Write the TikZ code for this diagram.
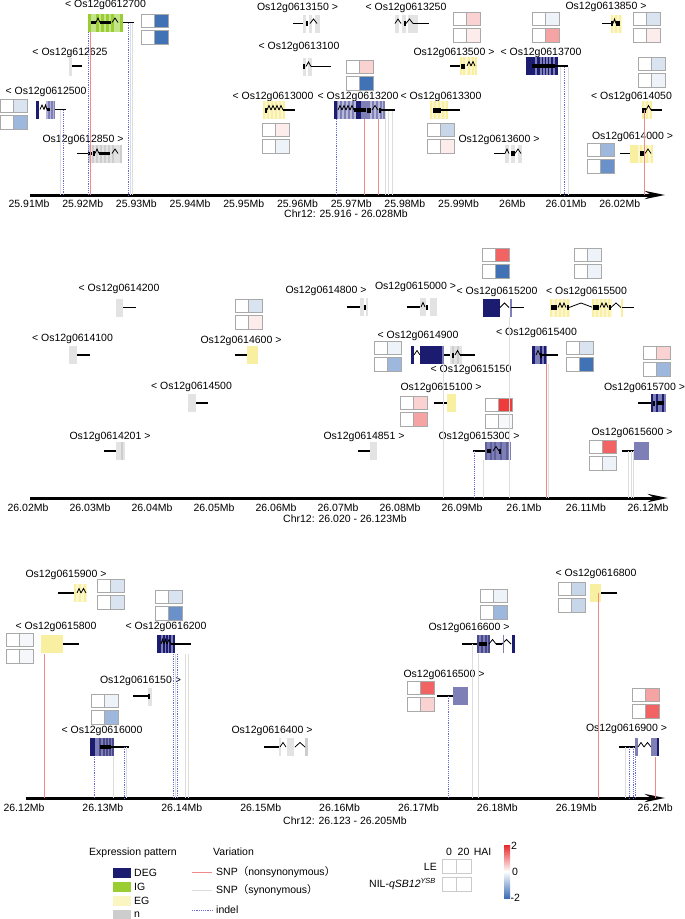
\documentclass[tikz,border=0pt]{standalone}
\usepackage{fontspec}
\setmainfont{Liberation Sans}
\newfontfamily\cjk{Noto Sans CJK SC}
\usepackage{xcolor}
\usetikzlibrary{arrows.meta,positioning}

\definecolor{degc}{HTML}{1B1B6F}
\definecolor{degl}{HTML}{7F7FB8}
\definecolor{igc}{HTML}{9ACD32}
\definecolor{igl}{HTML}{C4E48A}
\definecolor{egc}{HTML}{F8EFA0}
\definecolor{egl}{HTML}{FCF7CF}
\definecolor{nc}{HTML}{CDCDCD}
\definecolor{nl}{HTML}{E3E3E3}
\definecolor{snpred}{HTML}{F08A8A}
\definecolor{snpgrey}{HTML}{DDDDDD}
\definecolor{indelc}{HTML}{6C6CD6}
\definecolor{cellb}{HTML}{A9A9A9}
\definecolor{hb1}{HTML}{EEF2F9}
\definecolor{hb2}{HTML}{DAE3F0}
\definecolor{hb3}{HTML}{C8D6EA}
\definecolor{hb4}{HTML}{9DB8DC}
\definecolor{hb5}{HTML}{6A91C9}
\definecolor{hb6}{HTML}{4172B6}
\definecolor{hr1}{HTML}{FCECEC}
\definecolor{hr2}{HTML}{FAD2D2}
\definecolor{hr3}{HTML}{F6A3A3}
\definecolor{hr4}{HTML}{F26464}
\definecolor{hr5}{HTML}{EE3B3B}
\definecolor{cbred}{HTML}{E8282C}
\definecolor{cbblue}{HTML}{3A6DB5}

\newcommand\lbl{\fontsize{10.5}{12}\selectfont}
\newcommand\gln[3]{\draw[gl] (#1,#3)--(#2,#3);}
\newcommand\exn[4]{\fill[#4] (#1,{#3-9}) rectangle (#2,{#3+9});}
\newcommand\stp[4]{\foreach \s in {#1}{\fill[#3] (\s,{#2-9}) rectangle ++(#4,18);}}
\newcommand\tck[2]{\fill ({#1-0.55},{#2-2.5}) rectangle ({#1+0.55},{#2+2.5});}
\newcommand\cds[3]{\fill (#1,{#3-1.6}) rectangle (#2,{#3+1.6});}
\newcommand\chv[3]{\draw[zz] (#1,#3)--({(#1+#2)/2},{#3-4.5})--(#2,#3);}
\newcommand\vln[4]{\draw[#1] (#2,#3)--(#2,#4);}
\newcommand\hmap[4]{%
  \filldraw[hcell,fill=white] (#1,#2) rectangle ++(13.5,13.5);
  \filldraw[hcell,fill=#3] ({#1+13.5},#2) rectangle ++(13.5,13.5);
  \filldraw[hcell,fill=white] (#1,{#2+16.5}) rectangle ++(13.5,13.5);
  \filldraw[hcell,fill=#4] ({#1+13.5},{#2+16.5}) rectangle ++(13.5,13.5);}

\tikzset{
  lab/.style={font=\lbl,inner sep=0pt},
  gl/.style={line width=1.1pt,black},
  zz/.style={line width=0.8pt,black},
  axis/.style={line width=3pt,-{Stealth[length=20pt,width=8pt]}},
  snpn/.style={draw=snpred,line width=0.6pt},
  snps/.style={draw=snpgrey,line width=0.9pt},
  indel/.style={draw=indelc,line width=0.6pt,dash pattern=on 1.2pt off 1pt},
  hcell/.style={draw=cellb,line width=0.8pt},
}

\begin{document}
\begin{tikzpicture}[x=1pt,y=-1pt]
  \useasboundingbox (0,0) rectangle (685,919);

  % ---------- panel 1 ----------
  \draw[axis] (30,195)--(665,195);
  \foreach \v [count=\i from 0] in {25.91,25.92,25.93,25.94,25.95,25.96,25.97,25.98,25.99,26,26.01,26.02}
    \node[lab] (ta\i) at ({29+53.7*\i},204) {\v Mb};
  \node[lab] (chra) at (346,214) {Chr12: 25.916 - 26.028Mb};

  \node[lab] (l0612700) at (105.5,5) {< Os12g0612700};
  \exn{88}{123}{22.5}{igl} \stp{88,96,101,106,111,120}{22.5}{igc}{2.5}
  \cds{91}{96}{22.5} \chv{96}{100}{22.5} \cds{100}{111}{22.5} \chv{112}{118}{22.5}
  \gln{123}{134}{22.5}
  \hmap{141}{14}{hb6}{hb6}

  \node[lab] (l0612625) at (70,53) {< Os12g612625};
  \exn{69}{72}{67}{nl} \gln{72}{82}{66}

  \node[lab] (l0612500) at (46,92) {< Os12g0612500};
  \exn{46}{55}{109.5}{degl!60} \stp{48,51,53.5}{109.5}{degl}{1.5}
  \exn{36}{39}{109.5}{degc} \chv{40}{44}{109.5} \chv{44}{47}{109.5} \cds{47}{50}{109.5}
  \gln{55}{66}{109.5}
  \hmap{0}{99}{hb2}{hb4}

  \node[lab] (l0612850) at (83,140) {Os12g0612850 >};
  \gln{77}{88}{153.5} \exn{88}{122}{153.5}{nl} \stp{88,92,96,100,104,108,112,120}{153.5}{nc}{2}
  \cds{88}{92}{153.5} \tck{94}{153.5} \chv{95}{99}{153.5} \cds{99}{110}{153.5} \chv{112}{118}{153.5}

  \node[lab] (l0613150) at (297.5,8) {Os12g0613150 >};
  \gln{293}{303}{23.5} \exn{303}{306}{23.5}{nl} \exn{309}{312}{23.5}{nl} \exn{315}{320}{23.5}{nl}
  \tck{307}{23.5} \chv{310}{317}{23.5}

  \node[lab] (l0613250) at (406,8) {< Os12g0613250};
  \exn{395}{399}{23.5}{nl} \exn{402}{406}{23.5}{nl} \exn{408}{418}{23.5}{nl}
  \chv{395}{401}{23.5} \tck{405}{23.5} \chv{406}{413}{23.5} \gln{413}{429}{23.5}

  \node[lab] (l0613100) at (299,47) {< Os12g0613100};
  \exn{303}{306}{66.5}{nl} \exn{308}{312}{66.5}{nl} \tck{304}{66.5} \chv{306}{311}{66.5}
  \gln{311}{331}{66.5}
  \hmap{346}{60}{hr2}{hb6}

  \node[lab] (l0613000) at (273,97) {< Os12g0613000};
  \exn{263}{285}{110}{egl} \stp{263,267,271,275,279,283}{110}{egc}{1.6}
  \tck{266}{110} \chv{267}{271}{110} \chv{271}{275}{110} \chv{275}{279}{110} \chv{279}{283}{110}
  \gln{283}{295}{110}
  \hmap{262}{123}{hr1}{hb1}

  \node[lab] (l0613200) at (358,97) {< Os12g0613200};
  \exn{334}{385}{110}{degl!55}
  \stp{336,340,344,348,352,356,360,362,364,366,368,372,376,380,383}{110}{degl}{1.5}
  \exn{334}{337}{110}{degc} \exn{356}{361}{110}{degc}
  \chv{338}{342}{110} \chv{342}{346}{110} \chv{346}{350}{110} \chv{350}{354}{110}
  \cds{354}{366}{110} \tck{368}{110} \tck{370}{110} \chv{372}{378}{110} \tck{380}{110}
  \gln{380}{395}{110}

  \node[lab] (l0613300) at (441,97) {< Os12g0613300};
  \exn{430}{448}{110}{egl} \stp{430,434,438,442,446}{110}{egc}{1.6}
  \foreach \t in {434,436,438,440} {\tck{\t}{110}}
  \gln{441}{460}{110}
  \hmap{427}{123}{hb3}{hr1}

  \node[lab] (l0613500) at (454,53) {Os12g0613500 >};
  \gln{450}{462}{66} \exn{460}{477}{66}{egl} \stp{460,463,468,472,475}{66}{egc}{1.6}
  \tck{462}{66} \tck{464}{66} \chv{467}{471}{66} \chv{471}{475}{66}
  \hmap{453}{12}{hr2}{hr1}

  \node[lab] (l0613700) at (541,53) {< Os12g0613700};
  \exn{526}{558}{66}{degc} \stp{535,540,543,546,549,553}{66}{degl}{1.5}
  \cds{532}{555}{66} \gln{555}{568}{66}
  \hmap{532}{12}{hb1}{hr3}

  \node[lab] (l0613850) at (606,7) {Os12g0613850 >};
  \gln{602}{611}{23.5} \exn{611}{622}{23.5}{egl} \stp{611,615,619}{23.5}{egc}{1.6}
  \tck{612}{23.5} \chv{613}{616}{23.5} \tck{617}{23.5} \tck{619}{23.5}
  \hmap{633}{12}{hb2}{hr1}

  \node[lab] (l0614050) at (631.5,97) {< Os12g0614050};
  \exn{642}{652}{110}{egl} \stp{642,646,650}{110}{egc}{1.6}
  \tck{643}{110} \tck{645}{110} \chv{646}{651}{110} \gln{651}{662}{110}
  \hmap{638}{57}{hb2}{hb1}

  \node[lab] (l0614000) at (632.5,137) {Os12g0614000 >};
  \gln{620}{630}{153.5} \exn{630}{653}{153.5}{egl} \exn{630}{638}{153.5}{egc}
  \stp{640,646,651}{153.5}{egc}{2}
  \tck{641}{153.5} \tck{643}{153.5} \chv{645}{651}{153.5}
  \hmap{587}{143}{hb4}{hb5}

  \node[lab] (l0613600) at (499,140) {Os12g0613600 >};
  \gln{494}{505}{153.5} \exn{505}{509}{153.5}{nl} \exn{511}{515}{153.5}{nl} \exn{518}{522}{153.5}{nl}
  \chv{505}{509}{153.5} \tck{512}{153.5} \tck{514}{153.5} \chv{515}{521}{153.5}

  % variations, panel 1
  \vln{indel}{88}{31.5}{195} \vln{snpn}{90}{31.5}{195}
  \vln{indel}{128}{23}{195} \vln{snps}{130.5}{23}{195} \vln{snps}{132.5}{23}{195}
  \vln{snps}{60}{110}{195} \vln{indel}{63}{110}{195}
  \vln{indel}{336}{119}{195} \vln{snpn}{364}{119}{195} \vln{snpn}{378}{119}{195}
  \foreach \x in {385,388,392} {\vln{snps}{\x}{111}{195}}
  \vln{snps}{560}{67}{195} \vln{snps}{568}{67}{195} \vln{indel}{564}{67}{195}
  \vln{snpn}{644}{110}{195}

  % ---------- panel 2 ----------
  \draw[axis] (30,498)--(668,498);
  \foreach \v [count=\i from 0] in {26.02,26.03,26.04,26.05,26.06,26.07,26.08,26.09,26.1,26.11,26.12}
    \node[lab] (tb\i) at ({28+62*\i},508) {\v Mb};
  \node[lab] (chrb) at (345,519) {Chr12: 26.020 - 26.123Mb};

  \node[lab] (l0614200) at (119,289) {< Os12g0614200};
  \exn{116}{123}{307.5}{nl} \gln{123}{136}{307.5}
  \node[lab] (l0614100) at (72.5,339) {< Os12g0614100};
  \exn{69}{77}{355}{nl} \gln{77}{90}{355}
  \node[lab] (l0614500) at (191.5,387) {< Os12g0614500};
  \exn{188}{196}{403}{nl} \gln{196}{208}{403}
  \node[lab] (l0614201) at (110,437) {Os12g0614201 >};
  \gln{104}{116}{451} \exn{116}{125}{451}{nl} \exn{121}{123}{451}{nc}

  \node[lab] (l0614600) at (241,341) {Os12g0614600 >};
  \gln{235}{247}{355} \exn{247}{258}{355}{egc}
  \hmap{235}{299}{hb2}{hr1}

  \node[lab] (l0614800) at (326,291) {Os12g0614800 >};
  \gln{347}{360}{307} \exn{360}{364}{307}{nl} \exn{366}{368}{307}{nl} \tck{365}{307}

  \node[lab] (l0615000) at (415.5,287) {Os12g0615000 >};
  \gln{407}{420}{307} \exn{420}{426}{307}{nl} \exn{430}{437}{307}{nl}
  \chv{421}{425}{307} \tck{427}{307}

  \node[lab] (l0614900) at (418,336) {< Os12g0614900};
  \exn{411}{414}{355}{degc} \chv{414}{420}{355} \exn{420}{442}{355}{degc} \exn{442}{444}{355}{degl}
  \gln{444}{452}{355}
  \hmap{374}{341}{hb1}{hb4}

  \node[lab] (l0615150) at (471,370) {< Os12g0615150};
  \exn{450}{462}{355}{nl} \stp{452,457}{355}{nc}{2}
  \tck{453}{355} \chv{455}{460}{355} \gln{460}{475}{355}

  \node[lab] (l0615100) at (441,388) {Os12g0615100 >};
  \gln{434}{447}{403} \exn{447}{456}{403}{egc}
  \hmap{400}{396}{hr2}{hr3}

  \node[lab] (l0614851) at (364,437) {Os12g0614851 >};
  \gln{358}{370}{451} \exn{370}{377}{451}{nl}

  \node[lab] (l0615200) at (497,292) {< Os12g0615200};
  \exn{483}{500}{307.5}{degc} \chv{500}{509}{307.5} \exn{509.5}{511.5}{307.5}{degl}
  \gln{511}{524}{307.5}
  \hmap{482}{248}{hr4}{hb6}

  \node[lab] (l0615500) at (586.5,292) {< Os12g0615500};
  \exn{550}{570}{307.5}{egl} \stp{550,555,559,563,567}{307.5}{egc}{1.6}
  \tck{552}{307.5} \tck{554}{307.5} \tck{556}{307.5} \chv{558}{562}{307.5} \chv{562}{566}{307.5} \tck{568}{307.5}
  \chv{569}{593}{307.5}
  \exn{592}{612}{307.5}{egl} \stp{592,596,600,604,608}{307.5}{egc}{1.6}
  \tck{594}{307.5} \tck{596}{307.5} \tck{598}{307.5} \chv{600}{604}{307.5} \chv{604}{608}{307.5} \tck{610}{307.5}
  \chv{611}{621}{307.5} \exn{621}{623}{307.5}{egc} \gln{622}{634}{307.5}
  \hmap{574}{248}{hb1}{hb1}

  \node[lab] (l0615400) at (536.5,333) {< Os12g0615400};
  \exn{532}{547}{355}{degl} \exn{532}{535}{355}{degc} \stp{540,544}{355}{degc}{1.5}
  \chv{536}{540}{355} \tck{541}{355} \gln{541}{558}{355}
  \hmap{566}{341}{hb2}{hb6}

  \node[lab] (l0615700) at (644.5,388) {Os12g0615700 >};
  \gln{638}{651}{403} \exn{651}{666}{403}{degl} \stp{651,656,662}{403}{degc}{1.5}
  \tck{654}{403} \cds{657}{664}{403}
  \hmap{643}{346}{hr2}{hb4}

  \node[lab] (l0615300) at (479,437) {Os12g0615300 >};
  \gln{473}{487}{451} \exn{485}{511}{451}{degl} \stp{485,490,494,500,506}{451}{degc!70}{1.5}
  \cds{487}{491}{451} \chv{493}{499}{451} \tck{500}{451}
  \hmap{485}{398}{hr5}{hb1!50}

  \node[lab] (l0615600) at (632,433) {Os12g0615600 >};
  \gln{622}{634}{451} \exn{634}{649}{451}{degl}
  \hmap{589}{440}{hr4}{hb1}

  % variations, panel 2
  \vln{snps}{443}{364}{498}
  \vln{indel}{474}{451}{498} \vln{snps}{483}{460}{498}
  \vln{snps}{509}{317}{498}
  \vln{snpn}{546}{364}{498} \vln{snps}{548.5}{364}{498}
  \foreach \x in {628,631,633} {\vln{snps}{\x}{451}{498}}

  % ---------- panel 3 ----------
  \draw[axis] (26,798)--(665,798);
  \foreach \v [count=\i from 0] in {26.12,26.13,26.14,26.15,26.16,26.17,26.18,26.19,26.2}
    \node[lab] (tc\i) at ({24+78.9*\i},808) {\v Mb};
  \node[lab] (chrc) at (345,821) {Chr12: 26.123 - 26.205Mb};

  \node[lab] (l0615900) at (66,575) {Os12g0615900 >};
  \gln{58}{74}{593} \exn{74}{87}{593}{egl} \stp{74,79,84}{593}{egc}{2}
  \chv{77}{81}{593} \chv{81}{86}{593}
  \hmap{97}{579}{hb2}{hb2}

  \node[lab] (l0615800) at (56,627) {< Os12g0615800};
  \exn{41}{63}{644}{egc} \gln{63}{79}{644}
  \hmap{6}{633}{hb1!60}{hb1!60}

  \node[lab] (l0616200) at (166,627) {< Os12g0616200};
  \exn{157}{175}{644}{degl} \exn{157}{161}{644}{degc} \stp{163,166,169,173}{644}{degc}{1.5}
  \chv{161}{164}{644} \chv{164}{167}{644} \chv{167}{171}{644} \gln{171}{191}{644}
  \hmap{155}{590}{hb2}{hb5}

  \node[lab] (l0616150) at (140.5,681) {Os12g0616150 >};
  \gln{133}{148}{696} \exn{148}{152}{697}{nl} \tck{149}{696}

  \node[lab] (l0616000) at (102,731) {< Os12g0616000};
  \exn{90}{113}{747}{degl} \exn{90}{95}{747}{degc} \stp{99,103,106,109,112}{747}{degc!80}{1.5}
  \cds{100}{111}{747} \gln{111}{129}{747}
  \hmap{91}{694}{hb1}{hb4}

  \node[lab] (l0616400) at (272,731) {Os12g0616400 >};
  \gln{264}{280}{747} \exn{279}{281}{747}{nl} \exn{287}{294}{747}{nl} \exn{305}{308}{747}{nc}
  \chv{280}{286}{747} \chv{295}{305}{747}

  \node[lab] (l0616500) at (444,675) {Os12g0616500 >};
  \gln{437}{453}{696} \exn{453}{468}{696}{degl}
  \hmap{407}{681}{hr4}{hr2}

  \node[lab] (l0616600) at (469,628) {Os12g0616600 >};
  \gln{462}{477}{644} \exn{477}{490}{644}{degl} \stp{477,481,485,488}{644}{degc!80}{1.5}
  \cds{479}{487}{644} \chv{489}{496}{644} \gln{496}{502}{644} \chv{502}{511}{644}
  \exn{503}{504.2}{644}{degl} \exn{512}{515}{644}{degc}
  \hmap{480}{589}{hb1}{hb4}

  \node[lab] (l0616800) at (596,574) {< Os12g0616800};
  \exn{590}{601}{593}{egc} \gln{601}{617}{593}
  \hmap{558}{582}{hb3}{hb3}

  \node[lab] (l0616900) at (626.5,729) {Os12g0616900 >};
  \gln{619}{636}{747} \exn{635}{638}{747}{degl} \chv{638}{644}{747} \chv{644}{651}{747}
  \exn{651}{659}{747}{degl} \exn{657}{659}{747}{degc}
  \hmap{632}{688}{hr3}{hr4}

  % variations, panel 3
  \vln{snpn}{44}{654}{798}
  \vln{indel}{173}{654}{798} \vln{snps}{175}{654}{798} \vln{indel}{177}{654}{798}
  \vln{snps}{185}{654}{798} \vln{snps}{188}{654}{798}
  \vln{indel}{94}{757}{798} \vln{snps}{113}{757}{798} \vln{indel}{124}{747}{798} \vln{snps}{126}{747}{798}
  \vln{indel}{448}{696}{798}
  \vln{snps}{472}{644}{798} \vln{snps}{478}{654}{798}
  \vln{snpn}{598}{593}{798}
  \vln{snps}{625}{747}{798} \vln{indel}{629}{747}{798} \vln{indel}{633}{747}{798}
  \vln{indel}{635.5}{757}{798} \vln{snpn}{655}{757}{798}

  % ---------- legend ----------
  \node[lab] (lgexp) at (133,853) {Expression pattern};
  \fill[degc] (113,868) rectangle (131,878);
  \fill[igc] (113,882) rectangle (131,892);
  \fill[egl!70!egc] (113,896) rectangle (131,906);
  \fill[nc] (113,910) rectangle (131,919);
  \node[lab,anchor=west] (lgdeg) at (134,873) {DEG};
  \node[lab,anchor=west] (lgig) at (134,887) {IG};
  \node[lab,anchor=west] (lgeg) at (134,901) {EG};
  \node[lab,anchor=west] (lgn) at (134,915) {n};

  \node[lab,anchor=west] (lgvar) at (213,852) {Variation};
  \draw[snpn,line width=0.8pt] (192,872)--(212,872);
  \draw[snps] (192,890)--(212,890);
  \draw[indel] (192,910)--(212,910);
  \node[lab,anchor=west] (lgsnpn) at (216,872) {SNP{\cjk （}nonsynonymous{\cjk ）}};
  \node[lab,anchor=west] (lgsnps) at (216,890) {SNP{\cjk （}synonymous{\cjk ）}};
  \node[lab,anchor=west] (lgindel) at (216,910) {indel};

  \node[lab] (lg0) at (449,852) {0};
  \node[lab] (lg20) at (463.5,852) {20};
  \node[lab] (lghai) at (482.5,852) {HAI};
  \node[lab,anchor=east] (lgle) at (437,867) {LE};
  \node[lab,anchor=east] (lgnil) at (436,884) {NIL-\textit{qSB12}\textsuperscript{\textit{YSB}}};
  \foreach \r in {859,877}
    \foreach \c in {442,456.5}
      \draw[draw=cellb!60,line width=0.9pt] (\c,\r) rectangle ++(14.5,14);
  \shade[top color=cbred,bottom color=white] (504,845) rectangle (510,871.5);
  \shade[top color=white,bottom color=cbblue] (504,871.5) rectangle (510,898);
  \node[lab,anchor=west] (cb2) at (511,846) {2};
  \node[lab,anchor=west] (cb0) at (512,872) {0};
  \node[lab,anchor=west] (cbm2) at (510.5,898) {-2};
\end{tikzpicture}
\end{document}
